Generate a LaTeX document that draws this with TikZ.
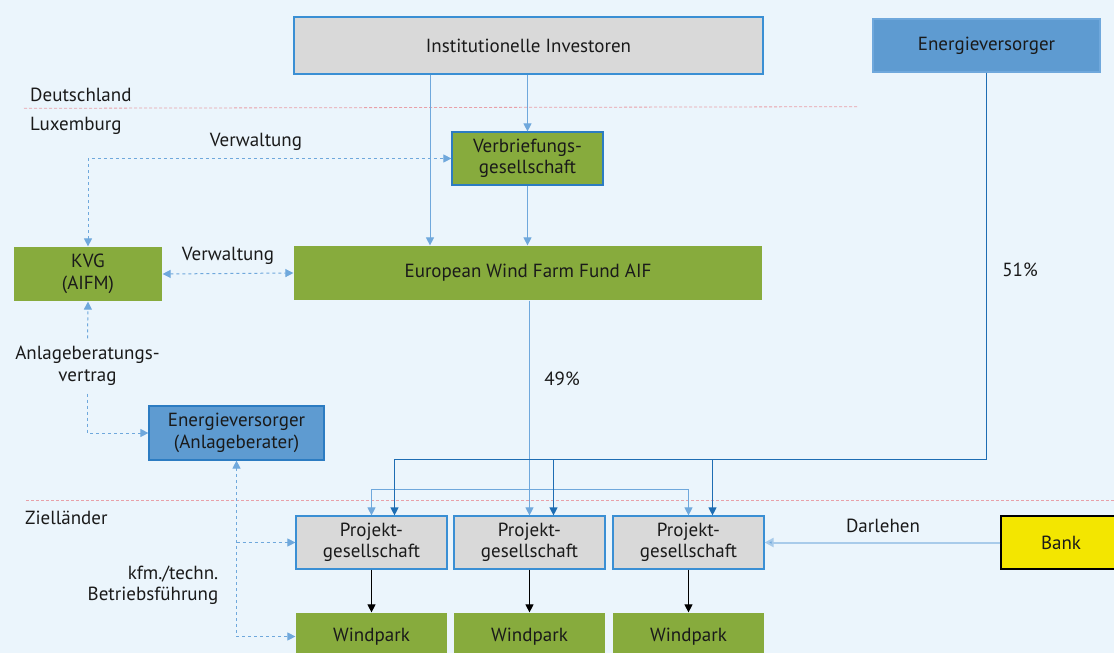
\documentclass[tikz,border=0pt]{standalone}
\usepackage{fontspec}
\setmainfont{PT Sans}
\usetikzlibrary{arrows.meta,calc}
\definecolor{bg}{HTML}{EBF5FC}
\definecolor{grayfill}{HTML}{D9D9D9}
\definecolor{grayborder}{HTML}{3A8FD4}
\definecolor{greenfill}{HTML}{87AB3D}
\definecolor{bluefill}{HTML}{5E9BD1}
\definecolor{blueborder}{HTML}{2C7CC2}
\definecolor{yellowfill}{HTML}{F3E600}
\definecolor{lightline}{HTML}{6FA8DC}
\definecolor{darkline}{HTML}{1E6DB3}
\definecolor{redline}{HTML}{E8A0A8}
\definecolor{bankline}{HTML}{A8CBEA}
\definecolor{txt}{HTML}{1A1A1A}
\begin{document}
\begin{tikzpicture}[x=1pt,y=-1pt,
  font=\fontsize{19}{21.5}\selectfont, text=txt,
  box/.style={draw, line width=1.2pt, minimum width=#1, inner sep=0pt, align=center},
  graybox/.style={box=#1, fill=grayfill, draw=grayborder},
  greenbox/.style={box=#1, fill=greenfill, draw=none},
  bluebox/.style={box=#1, fill=bluefill, draw=blueborder},
  tipa/.style={-{Triangle[width=8pt,length=8pt]}},
  tipb/.style={{Triangle[width=8pt,length=8pt]}-{Triangle[width=8pt,length=8pt]}},
  lb/.style={draw=lightline, line width=1pt},
  db/.style={draw=darkline, line width=1.2pt},
  dsh/.style={draw=lightline, line width=1pt, dash pattern=on 3pt off 3pt},
  bl/.style={draw=black, line width=1pt},
  border/.style={draw=redline, line width=0.8pt, dash pattern=on 3pt off 2pt},
  lbl/.style={inner sep=0pt, align=center}
]
\fill[bg] (0,0) rectangle (1114,653);
\useasboundingbox (0,0) rectangle (1114,653);

% border lines
\draw[border] (24,108.3) -- (858,106.7);
\draw[border] (26,500.3) -- (1114,500.3);

% nodes
\node[graybox=469pt, minimum height=57pt] (inv) at (528.5,45.5) {Institutionelle Investoren};
\node[bluebox=227pt, minimum height=53pt, draw=lightline] (ev) at (986.5,45.5) {Energieversorger};
\node[greenbox=151pt, minimum height=53pt, draw=blueborder] (verb) at (527.5,158.5) {Verbriefungs-\\gesellschaft};
\node[greenbox=468pt, minimum height=54pt] (ewff) at (528,273) {European Wind Farm Fund AIF};
\node[greenbox=148pt, minimum height=54pt] (kvg) at (88,274) {KVG\\(AIFM)};
\node[bluebox=175pt, minimum height=54pt] (anl) at (236.5,433) {Energieversorger\\(Anlageberater)};
\node[graybox=151pt, minimum height=53pt] (p1) at (371.5,542.5) {Projekt-\\gesellschaft};
\node[graybox=151pt, minimum height=53pt] (p2) at (529.5,542.5) {Projekt-\\gesellschaft};
\node[graybox=151pt, minimum height=53pt] (p3) at (688.5,542.5) {Projekt-\\gesellschaft};
\node[greenbox=151pt, minimum height=47pt] (w1) at (371.5,636.5) {Windpark};
\node[greenbox=151pt, minimum height=47pt] (w2) at (529.5,636.5) {Windpark};
\node[greenbox=151pt, minimum height=47pt] (w3) at (688.5,636.5) {Windpark};
\node[box=120pt, minimum height=53pt, fill=yellowfill, draw=black] (bank) at (1061,542.5) {Bank};

% labels
\node[lbl, anchor=west] (de) at (30,95) {Deutschland};
\node[lbl, anchor=west] (lu) at (30,126) {Luxemburg};
\node[lbl, anchor=west] (zl) at (25,518) {Zielländer};
\node[lbl] (verw1) at (256,142) {Verwaltung};
\node[lbl] (verw2) at (228,256) {Verwaltung};
\node[lbl] (p49) at (562,379) {49\%};
\node[lbl] (p51) at (1020,270) {51\%};
\node[lbl] (darl) at (883,526) {Darlehen};
\node[lbl, anchor=east, align=right] (kfm) at (218.5,585) {kfm./techn.\\Betriebsführung};
\node[lbl, inner ysep=8pt] (anltxt) at (87.5,366) {Anlageberatungs-\\vertrag};

% coordinates
\coordinate (xa) at (430,0);
\coordinate (lbr) at (0,489.3);
\coordinate (dbr) at (0,459.3);

% solid connectors from investors
\draw[lb, tipa] (inv.south -| xa) -- (ewff.north -| xa);
\draw[lb, tipa] (inv.south -| verb.north) -- (verb.north);
\draw[lb, tipa] (verb.south) -- (verb.south |- ewff.north);

% fund to project companies
\draw[lb, tipa] (ewff.south -| p2.north) -- (p2.north);
\draw[lb, tipa] (p2.north |- lbr) -| (p1.north);
\draw[lb, tipa] (p2.north |- lbr) -| (p3.north);

% energy supplier to project companies
\coordinate (d1) at ($(p1.north)+(23,0)$);
\coordinate (d2) at ($(p2.north)+(24,0)$);
\coordinate (d3) at ($(p3.north)+(24,0)$);
\draw[db, tipa] (ev.south) -- (ev.south |- dbr) -| (d1);
\draw[db, tipa] (d2 |- dbr) -- (d2);
\draw[db, tipa] (d3 |- dbr) -- (d3);

% project companies to wind parks
\draw[bl, tipa] (p1.south) -- (w1.north);
\draw[bl, tipa] (p2.south) -- (w2.north);
\draw[bl, tipa] (p3.south) -- (w3.north);

% bank loan
\draw[draw=bankline, line width=2pt, -{Triangle[width=9pt,length=9pt,fill=lightline]}] (bank.west) -- (p3.east);

% dashed management lines
\draw[dsh, tipb] (kvg.north) |- (verb.west);
\draw[dsh, tipb] (kvg.east) -- (ewff.west);
\draw[dsh, tipa] (anltxt.north) -- (kvg.south);
\draw[dsh, tipa] (anltxt.south) |- (anl.west);
\draw[dsh, tipb] (anl.south) |- (w1.west);
\draw[dsh, tipa] (anl.south |- p1.west) -- (p1.west);
\end{tikzpicture}
\end{document}
